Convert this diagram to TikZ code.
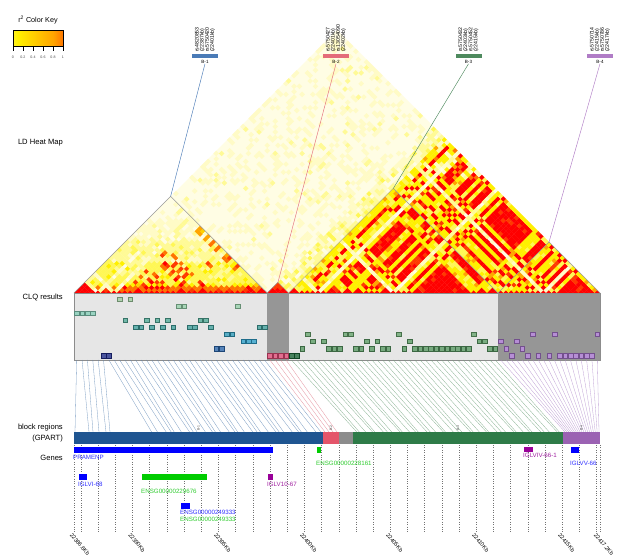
\documentclass[tikz,border=0pt]{standalone}
\usepackage{fontspec}
\setmainfont{Liberation Sans}
\usetikzlibrary{calc}

\definecolor{lev0}{HTML}{FFFDE4}
\definecolor{lev1}{HTML}{FFFBC6}
\definecolor{lev2}{HTML}{FFFA96}
\definecolor{lev3}{HTML}{FFF755}
\definecolor{lev4}{HTML}{FFF000}
\definecolor{lev5}{HTML}{FFD000}
\definecolor{lev6}{HTML}{FFA500}
\definecolor{lev7}{HTML}{FF7400}
\definecolor{lev8}{HTML}{FF3A00}
\definecolor{lev9}{HTML}{FF0000}
\pgfdeclarehorizontalshading{heatkey}{100bp}{color(0bp)=(lev1); color(30bp)=(lev4); color(65bp)=(lev6); color(100bp)=(lev9)}

\definecolor{bk1}{HTML}{4A7BB7}
\definecolor{bk2}{HTML}{E46C7A}
\definecolor{bk3}{HTML}{4E8A5E}
\definecolor{bk4}{HTML}{B07CC6}
\definecolor{gb1}{HTML}{1F5591}
\definecolor{gb2}{HTML}{E4556A}
\definecolor{gbx}{HTML}{8C8C8C}
\definecolor{gb3}{HTML}{2E7B48}
\definecolor{gb4}{HTML}{9B62B3}
\definecolor{ln1}{HTML}{5A84B4}
\definecolor{ln2}{HTML}{E07888}
\definecolor{ln3}{HTML}{6FA27A}
\definecolor{ln4}{HTML}{B08ACB}
\definecolor{geneblue}{HTML}{0000FF}
\definecolor{genegreen}{HTML}{00CC00}
\definecolor{genepurple}{HTML}{990099}
\definecolor{gtblue}{HTML}{3030FF}
\definecolor{gtgreen}{HTML}{30CC30}
\definecolor{gtpurple}{HTML}{A020A0}
\definecolor{panel}{HTML}{E6E6E6}
\definecolor{paneldark}{HTML}{969696}
\definecolor{cq1}{HTML}{9CC89C}
\definecolor{cq2}{HTML}{92CCA6}
\definecolor{cq3}{HTML}{80C8B2}
\definecolor{cq4}{HTML}{4FA693}
\definecolor{cq5}{HTML}{3E9C98}
\definecolor{cq6}{HTML}{2E98B6}
\definecolor{cq7}{HTML}{2C9CC6}
\definecolor{cq8}{HTML}{2A64A8}
\definecolor{cq9}{HTML}{1E2A86}
\definecolor{cpk}{HTML}{DC4A74}
\definecolor{cg9}{HTML}{1A6436}
\definecolor{cg8}{HTML}{55955F}
\definecolor{cg7}{HTML}{589862}
\definecolor{cg6}{HTML}{64A06A}
\definecolor{cpu}{HTML}{A472CA}

\newcount\hmLv
\newcount\hmD
\newcount\hmGi
\newcount\hmGj
\def\hmgrp#1{\ifcsname hmgrp#1\endcsname\csname hmgrp#1\endcsname\else 0\fi}

\def\cellBone{%
  \ifnum\hmGi=0 \hmLv=\numexpr\hmR/40\relax
  \else\ifnum\hmGj=0 \hmLv=\numexpr\hmR/40\relax
  \else
    \ifnum\hmGi=\hmGj \hmLv=\numexpr 9-\hmD/8\relax
    \else \hmLv=\numexpr 4-\hmD/8\relax \fi
    \ifnum\hmR<25 \advance\hmLv by -1 \fi
    \ifnum\hmR>85 \advance\hmLv by 1 \fi
    \ifnum\hmD<3 \ifnum\hmLv<7 \hmLv=7 \fi\fi
  \fi\fi
  \ifnum\hmLv<0 \hmLv=0 \fi
  \ifnum\hmLv>9 \hmLv=9 \fi}

\def\cellC{%
  \ifnum\hmGi=0 \hmLv=\numexpr\hmR/45\relax
  \else\ifnum\hmGj=0 \hmLv=\numexpr\hmR/45\relax
  \else
    \ifnum\hmGi=\hmGj
      \hmLv=9 \ifnum\hmR<15 \hmLv=8 \fi
    \else
      \hmLv=4 \ifnum\hmR<25 \hmLv=3 \fi\ifnum\hmR>90 \hmLv=6 \fi
    \fi
    \ifnum\hmD>42 \ifnum\hmR<45 \advance\hmLv by -2 \fi\fi
  \fi\fi
  \ifnum\hmLv<0 \hmLv=0 \fi}

\def\cellBtwo{%
  \ifnum\j<40 \hmLv=8 \ifnum\hmR<50 \hmLv=9 \fi
  \else \hmLv=\numexpr\hmR/35\relax \fi}

\def\cellX{%
  \hmLv=0
  \ifnum\hmR>70 \hmLv=1 \fi
  \ifnum\hmR>96 \hmLv=2 \fi}

\def\clqlist{0/3/cq3/3,1/3/cq3/3,2/3/cq3/3,3/3/cq3/3,5/9/cq9/9,6/9/cq9/9,
8/1/cq1/1,10/1/cq1/1,9/4/cq4/4,13/4/cq4/4,15/4/cq4/4,17/4/cq4/4,23/4/cq4/4,24/4/cq4/4,
11/5/cq5/5,12/5/cq5/5,14/5/cq5/5,16/5/cq5/5,18/5/cq5/5,21/5/cq5/5,22/5/cq5/5,25/5/cq5/5,34/5/cq5/5,35/5/cq5/5,
19/2/cq2/2,20/2/cq2/2,30/2/cq2/2,28/6/cq6/6,29/6/cq6/6,31/7/cq7/7,32/7/cq7/7,33/7/cq7/7,26/8/cq8/8,27/8/cq8/8,
36/9/cpk/9,37/9/cpk/9,38/9/cpk/9,39/9/cpk/9,
40/9/cg9/9,41/9/cg9/9,
42/8/cg8/8,47/8/cg8/8,48/8/cg8/8,49/8/cg8/8,52/8/cg8/8,53/8/cg8/8,55/8/cg8/8,57/8/cg8/8,58/8/cg8/8,61/8/cg8/8,63/8/cg8/8,
64/8/cg8/8,65/8/cg8/8,66/8/cg8/8,67/8/cg8/8,68/8/cg8/8,69/8/cg8/8,70/8/cg8/8,71/8/cg8/8,72/8/cg8/8,73/8/cg8/8,77/8/cg8/8,78/8/cg8/8,
43/6/cg6/6,50/6/cg6/6,51/6/cg6/6,60/6/cg6/6,74/6/cg6/6,
44/7/cg7/7,46/7/cg7/7,54/7/cg7/7,56/7/cg7/7,62/7/cg7/7,75/7/cg7/7,76/7/cg7/7,
79/7/cpu/6,82/7/cpu/6,80/8/cpu/7,83/8/cpu/7,85/6/cpu/7,89/6/cpu/7,97/6/cpu/7,
81/9/cpu/8,84/9/cpu/8,86/9/cpu/8,88/9/cpu/8,90/9/cpu/8,91/9/cpu/8,92/9/cpu/8,93/9/cpu/8,94/9/cpu/8,95/9/cpu/8,96/9/cpu/8}

\begin{document}
\begin{tikzpicture}[x=1pt,y=-1pt,
  sidelab/.style={anchor=east, inner sep=0pt, align=right, font=\fontsize{7.6}{11.6}\selectfont},
  toplab/.style={rotate=90, anchor=west, inner sep=0pt, align=left, font=\fontsize{5.2}{5.1}\selectfont},
  blab/.style={inner sep=0pt, font=\fontsize{4.6}{5}\selectfont},
  barlab/.style={fill=#1, minimum width=26pt, minimum height=3.5pt, inner sep=0pt},
  apexline/.style={draw=#1, line width=0.45pt},
  blkline/.style={draw=black!40, line width=0.4pt},
  clq/.style={draw=#1!70!black, fill=#1!80!white, minimum size=4.6pt, inner sep=0pt, line width=0.35pt},
  conn/.style={draw=#1, line width=0.3pt, opacity=0.8},
  dotline/.style={draw=black!55, line width=0.4pt, dash pattern=on 0.8pt off 1.6pt},
  genelab/.style={anchor=west, inner sep=0pt, text=#1, font=\fontsize{6.2}{7}\selectfont},
  axlab/.style={anchor=west, rotate=-50, inner sep=0pt, font=\fontsize{5.6}{6}\selectfont},
  bmark/.style={rotate=90, anchor=west, inner sep=0.2pt, font=\fontsize{3.4}{3.4}\selectfont, text=black!70}
]
\useasboundingbox (0,0) rectangle (619,560);
\fill[white] (0,0) rectangle (619,560);

% groups
\foreach \qi/\qr/\qc/\qg in \clqlist{\expandafter\xdef\csname hmgrp\qi\endcsname{\qg}}

% ---- LD heat map ----
\fill[lev0] (74,293) -- (337,30) -- (600,293) -- cycle;
\pgfmathsetseed{31}
\foreach \i in {0,...,97}{%
  \foreach \j in {\i,...,97}{%
    \hmD=\numexpr\j-\i\relax
    \hmGi=\hmgrp{\i}\relax
    \hmGj=\hmgrp{\j}\relax
    \pgfmathrandominteger{\hmR}{0}{99}%
    \ifnum\hmD=0 \hmLv=9
    \else\ifnum\j<36 \cellBone
    \else\ifnum\i>39 \cellC
    \else\ifnum\i>35 \cellBtwo
    \else\cellX
    \fi\fi\fi\fi
    \ifnum\hmLv>0
      \edef\hmCol{lev\the\hmLv}%
      \fill[fill=\hmCol] ({74+(\i+\j+1)*2.68367},{293-\the\hmD*2.68367}) ++(-2.8,0) -- ++(2.8,-2.8) -- ++(2.8,2.8) -- ++(-2.8,2.8) -- cycle;
    \fi
  }%
}

% block apexes
\coordinate (apx1) at (170.61,196.39);
\coordinate (apx2) at (277.96,282.27);
\coordinate (apx3) at (393.36,188.34);
\coordinate (apx4) at (549.01,242.01);
\coordinate (bs0) at (74,293);
\coordinate (bs1) at (267.22,293);
\coordinate (bs2) at (288.69,293);
\coordinate (bs3) at (498.02,293);
\coordinate (bs4) at (600,293);
\draw[blkline] (bs0) -- (apx1) -- (bs1);
\draw[blkline] (bs1) -- (apx2) -- (bs2);
\draw[blkline] (bs2) -- (apx3) -- (bs3);
\draw[blkline] (bs3) -- (apx4) -- (bs4);

% ---- top block labels ----
\foreach \k/\xc/\col/\txt in {
  1/205/bk1/{rs4820853\\(22387kb)\\rs5750420\\(22401kb)},
  2/336/bk2/{rs5750427\\(22401kb)\\rs13054090\\(22402kb)},
  3/468.5/bk3/{rs5750432\\(22403kb)\\rs5750452\\(22415kb)},
  4/600/bk4/{rs5750714\\(22415kb)\\rs5750786\\(22417kb)}}{%
  \node[toplab] (tl\k) at (\xc,52) {\txt};
  \node[barlab=\col] (bar\k) at (\xc,55.75) {};
  \node[blab] (bt\k) at (\xc,62) {B-\k};
  \draw[apexline=\col] (bt\k.south) -- (apx\k);
}

% ---- CLQ panel ----
\fill[panel] (74,293) rectangle (600,360);
\fill[paneldark] (bs1) rectangle (288.69,360);
\fill[paneldark] (bs3) rectangle (600,360);
\draw[black!45, line width=0.5pt] (74,293) rectangle (600,360);
\foreach \qi/\qr/\qc/\qg in \clqlist{%
  \node[clq=\qc] (q\qi) at ({74+(\qi+0.5)*5.36735},{299+(\qr-1)*7.06}) {};
}

% ---- connectors CLQ -> block regions ----
\foreach \i/\gx in {0/75,1/89,2/93,3/99,4/106,5/110}{%
  \coordinate (t\i) at ({74+(\i+0.5)*5.36735},360);
  \coordinate (b\i) at (\gx,432);
  \draw[conn=ln1] (t\i) -- (b\i);
}
\foreach \i in {6,...,35}{%
  \coordinate (t\i) at ({74+(\i+0.5)*5.36735},360);
  \coordinate (b\i) at ({153+(\i-6)*5.76+2*sin(\i*97)},432);
  \draw[conn=ln1] (t\i) -- (b\i);
}
\foreach \i in {36,...,39}{%
  \coordinate (t\i) at ({74+(\i+0.5)*5.36735},360);
  \coordinate (b\i) at ({325+(\i-36)*4},432);
  \draw[conn=ln2] (t\i) -- (b\i);
}
\foreach \i in {40,...,78}{%
  \coordinate (t\i) at ({74+(\i+0.5)*5.36735},360);
  \coordinate (b\i) at ({355+(\i-40)*5.42+1.8*sin(\i*137)},432);
  \draw[conn=ln3] (t\i) -- (b\i);
}
\foreach \i in {79,...,97}{%
  \coordinate (t\i) at ({74+(\i+0.5)*5.36735},360);
  \coordinate (b\i) at ({565+(\i-79)*1.89},432);
  \draw[conn=ln4] (t\i) -- (b\i);
}

% ---- block regions bar ----
\fill[gb1] (74,432) rectangle (323,444);
\fill[gb2] (323,432) rectangle (339,444);
\fill[gbx] (339,432) rectangle (353,444);
\fill[gb3] (353,432) rectangle (563,444);
\fill[gb4] (563,432) rectangle (600,444);
\node[bmark] (m1) at (198.5,431) {B-1};
\node[bmark] (m2) at (331,431) {B-2};
\node[bmark] (m3) at (458,431) {B-3};
\node[bmark] (m4) at (581.5,431) {B-4};

% ---- dotted position lines ----
\draw[dotline] (74,445) -- (74,532);
\foreach \k in {0,...,30}{\draw[dotline] ({74+(\k+0.4)*17.1895},445) -- ++(0,87);}
\draw[dotline] (600,445) -- (600,532);

% ---- genes ----
\fill[geneblue] (74,447) rectangle (273,452.5);
\node[genelab=gtblue] (g1) at (73,457.5) {PRAMENP};
\fill[genegreen] (317,447) rectangle (320.5,452.5);
\node[genelab=gtgreen] (g2) at (316,463.5) {ENSG00000228161};
\fill[genepurple] (524,446.5) rectangle (533,452);
\node[genelab=gtpurple] (g3) at (523,455.5) {IGLVIV-66-1};
\fill[geneblue] (571,447) rectangle (579,452.5);
\node[genelab=gtblue] (g4) at (570,463.5) {IGLVV-66};
\fill[geneblue] (79,474) rectangle (87,480);
\node[genelab=gtblue] (g5) at (78,484.5) {IGLVI-68};
\fill[genegreen] (142,474) rectangle (207,480);
\node[genelab=gtgreen] (g6) at (141,491) {ENSG00000229676};
\fill[genepurple] (268,474) rectangle (273,480);
\node[genelab=gtpurple] (g7) at (267,484.5) {IGLV10-67};
\fill[geneblue] (181,503) rectangle (190,508.5);
\node[genelab=gtblue] (g8) at (180,512.2) {ENSG00000249333};
\node[genelab=gtgreen] (g9) at (180,519.8) {ENSG00000249333};

% ---- axis labels ----
\foreach \xx/\lab [count=\n] in {74/22386.6Kb,132.44/22390Kb,218.39/22395Kb,304.34/22400Kb,390.29/22405Kb,476.25/22410Kb,562.2/22415Kb,598/22417.2Kb}{%
  \node[axlab] (ax\n) at (\xx-3,534) {\lab};
}

% ---- left labels ----
\node[sidelab] (lhm) at (63,143) {LD Heat Map};
\node[sidelab] (lclq) at (63,297) {CLQ results};
\node[sidelab] (lblk) at (63,433) {block regions\\(GPART)};
\node[sidelab] (lgen) at (63,458) {Genes};

% ---- colour key ----
\shade[shading=heatkey] (13,30) rectangle (63,46);
\draw[line width=0.5pt] (13,30) rectangle (63,46);
\node[inner sep=0pt, font=\fontsize{7.2}{8}\selectfont] (keyt) at (38,20) {r\textsuperscript{2} Color Key};
\foreach \lab [count=\n from 0] in {0,0.2,0.4,0.6,0.8,1}{%
  \draw[line width=0.5pt] ({13+10*\n},46) -- ({13+10*\n},51);
  \node[inner sep=0pt, font=\fontsize{3.6}{4}\selectfont, text=black!70] (kt\n) at ({13+10*\n},57) {\lab};
}
\end{tikzpicture}
\end{document}
